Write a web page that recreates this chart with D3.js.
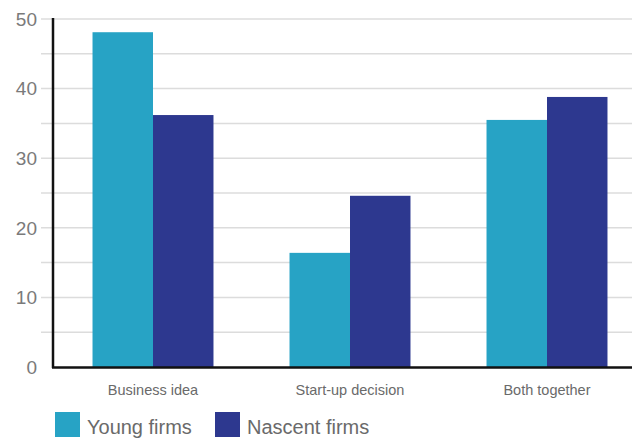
<!DOCTYPE html>
<html>
<head>
<meta charset="utf-8">
<script src="https://cdn.jsdelivr.net/npm/d3@7"></script>
<style>
  body { margin: 0; background: #fff; }
  text { font-family: "Liberation Sans", Arial, sans-serif; }
</style>
</head>
<body>
<div id="chart"></div>
<script>
const width = 632;
const height = 439;

// data
const categories = ["Business idea", "Start-up decision", "Both together"];
const seriesNames = ["Young firms", "Nascent firms"];
const youngFirms = [48.1, 16.4, 35.5];
const nascentFirms = [36.2, 24.6, 38.8];
const yTicks = [0, 10, 20, 30, 40, 50];
const gridValues = [5, 10, 15, 20, 25, 30, 35, 40, 45, 50];
const colors = ["#27a3c5", "#2d388f"];

const svg = d3.select("#chart").append("svg")
    .attr("width", width)
    .attr("height", height);

const y = d3.scaleLinear().domain([0, 50]).range([367, 19]);

const x = d3.scaleBand()
    .domain(categories)
    .range([54.5, 645.5])
    .paddingInner(0.386)
    .paddingOuter(0.193);

const xSub = d3.scaleBand()
    .domain(seriesNames)
    .range([0, x.bandwidth()]);

// gridlines
svg.append("g")
    .selectAll("line")
    .data(gridValues)
    .enter().append("line")
    .attr("x1", 41)
    .attr("x2", width)
    .attr("y1", d => y(d))
    .attr("y2", d => y(d))
    .attr("stroke", "#dcdcdc")
    .attr("stroke-width", 1.5);

// y tick labels
svg.append("g")
    .selectAll("text")
    .data(yTicks)
    .enter().append("text")
    .attr("x", 37)
    .attr("y", d => y(d))
    .attr("dy", "0.36em")
    .attr("text-anchor", "end")
    .attr("fill", "#7a7a7a")
    .style("font-size", "19px")
    .text(d => d);

// bars
const series = [youngFirms, nascentFirms];
const groups = svg.append("g")
    .selectAll("g")
    .data(categories)
    .enter().append("g")
    .attr("transform", d => `translate(${x(d)},0)`);

groups.selectAll("rect")
    .data((d, i) => seriesNames.map((s, j) => ({ name: s, value: series[j][i], idx: j })))
    .enter().append("rect")
    .attr("x", d => xSub(d.name))
    .attr("width", xSub.bandwidth())
    .attr("y", d => y(d.value))
    .attr("height", d => y(0) - y(d.value))
    .attr("fill", d => colors[d.idx]);

// axes lines
svg.append("line")
    .attr("x1", 53).attr("x2", 53)
    .attr("y1", 18).attr("y2", 368)
    .attr("stroke", "#111").attr("stroke-width", 2.5);

svg.append("line")
    .attr("x1", 52).attr("x2", width)
    .attr("y1", 367.5).attr("y2", 367.5)
    .attr("stroke", "#111").attr("stroke-width", 2.5);

// category labels
svg.append("g")
    .selectAll("text")
    .data(categories)
    .enter().append("text")
    .attr("x", d => x(d) + x.bandwidth() / 2)
    .attr("y", 395)
    .attr("text-anchor", "middle")
    .attr("fill", "#6a6a6a")
    .style("font-size", "14.5px")
    .text(d => d);

// legend
const legendX = [55, 215];
const legend = svg.append("g")
    .selectAll("g")
    .data(seriesNames)
    .enter().append("g")
    .attr("transform", (d, i) => `translate(${legendX[i]},412)`);

legend.append("rect")
    .attr("width", 25)
    .attr("height", 25)
    .attr("fill", (d, i) => colors[i]);

legend.append("text")
    .attr("x", 32)
    .attr("y", 22)
    .attr("fill", "#6a6a6a")
    .style("font-size", "20px")
    .text(d => d);
</script>
</body>
</html>
